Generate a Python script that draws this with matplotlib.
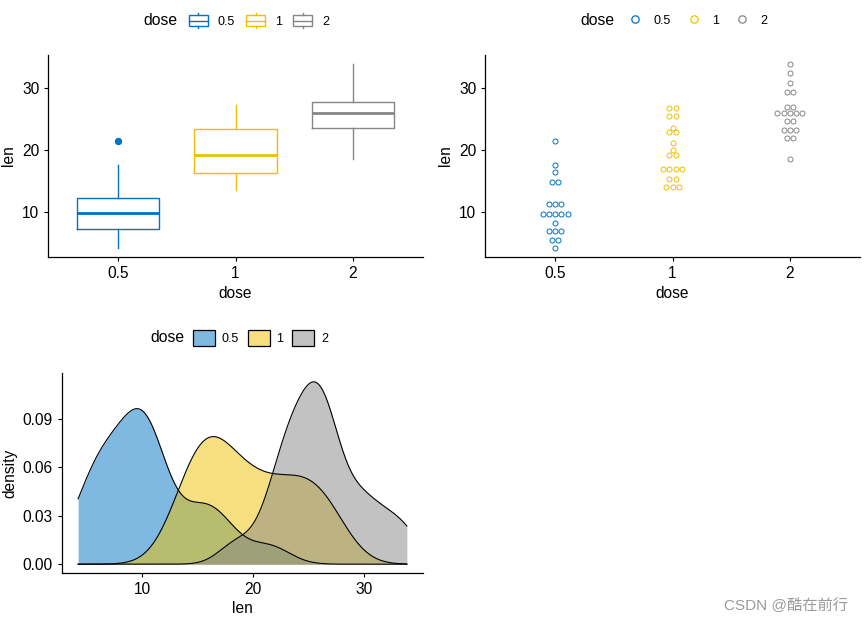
import numpy as np
import matplotlib
matplotlib.use("Agg")
import matplotlib.pyplot as plt
from matplotlib.legend_handler import HandlerBase
from matplotlib.patches import Rectangle, Patch
from matplotlib.lines import Line2D

plt.rcParams['font.family'] = ['Liberation Sans', 'Noto Sans CJK SC', 'DejaVu Sans']

# ---- data (ToothGrowth len by dose) ----
doses = ["0.5", "1", "2"]
len_05 = [4.2, 11.5, 7.3, 5.8, 6.4, 10.0, 11.2, 11.2, 5.2, 7.0,
          15.2, 21.5, 17.6, 9.7, 14.5, 10.0, 8.2, 9.4, 16.5, 9.7]
len_1 = [16.5, 16.5, 15.2, 17.3, 22.5, 17.3, 13.6, 14.5, 18.8, 15.5,
         19.7, 23.3, 23.6, 26.4, 20.0, 25.2, 25.8, 21.2, 14.5, 27.3]
len_2 = [23.6, 18.5, 33.9, 25.5, 26.4, 32.5, 26.7, 21.5, 23.3, 29.5,
         25.5, 26.4, 22.4, 24.5, 24.8, 30.9, 26.4, 27.3, 29.4, 23.0]
groups = [len_05, len_1, len_2]
colors = ["#0073C2", "#EFC000", "#868686"]

fig = plt.figure(figsize=(8.64, 6.23), dpi=100)
W, H = 864, 623

def style(ax):
    for s in ["top", "right"]:
        ax.spines[s].set_visible(False)
    for s in ["left", "bottom"]:
        ax.spines[s].set_linewidth(0.9)
        ax.spines[s].set_color("black")
    ax.tick_params(direction="out", length=2.8, width=0.8, labelsize=11.2,
                   colors="black", pad=3.5)

allv = np.concatenate(groups)
lo, hi = allv.min(), allv.max()
ylim = (lo - 0.05 * (hi - lo), hi + 0.05 * (hi - lo))

# ---- top-left boxplot ----
ax1 = fig.add_axes([48 / W, 1 - 257 / H, 375 / W, 202 / H])
for i, (g, c) in enumerate(zip(groups, colors)):
    ax1.boxplot([g], positions=[i + 1], widths=0.7, whis=1.5,
                boxprops=dict(color=c, linewidth=1.0),
                whiskerprops=dict(color=c, linewidth=1.0),
                capprops=dict(linewidth=0),
                medianprops=dict(color=c, linewidth=2.0),
                flierprops=dict(marker='o', markerfacecolor=c, markeredgecolor=c,
                                markersize=4.3))
ax1.set_xlim(0.4, 3.6)
ax1.set_ylim(*ylim)
ax1.set_xticks([1, 2, 3])
ax1.set_xticklabels(doses)
ax1.set_yticks([10, 20, 30])
ax1.set_xlabel("dose", fontsize=11.2, labelpad=4)
ax1.set_ylabel("len", fontsize=11.2, labelpad=4)
style(ax1)

# ---- top-right dotplot ----
ax2 = fig.add_axes([485 / W, 1 - 257 / H, 375 / W, 202 / H])
ax2.set_xlim(0.4, 3.6)
ax2.set_ylim(*ylim)
binw = (hi - lo) / 30.0
ypx = ax2.transData.transform((0, binw))[1] - ax2.transData.transform((0, 0))[1]
xpx_unit = ax2.transData.transform((1, 0))[0] - ax2.transData.transform((0, 0))[0]
dia_pt = ypx * 72 / fig.dpi
for i, (g, c) in enumerate(zip(groups, colors)):
    v = np.sort(np.array(g))
    bins = []
    binend = -np.inf
    for x in v:
        if x >= binend:
            binend = x + binw
            bins.append([])
        bins[-1].append(x)
    xs, ys = [], []
    for b in bins:
        cy = (min(b) + max(b)) / 2
        n = len(b)
        for k in range(n):
            xs.append(i + 1 + (k - (n - 1) / 2) * ypx / xpx_unit)
            ys.append(cy)
    ax2.plot(xs, ys, linestyle="none", marker="o", markersize=dia_pt * 0.82,
             markerfacecolor="none", markeredgecolor=c, markeredgewidth=0.7)
ax2.set_xticks([1, 2, 3])
ax2.set_xticklabels(doses)
ax2.set_yticks([10, 20, 30])
ax2.set_xlabel("dose", fontsize=11.2, labelpad=4)
ax2.set_ylabel("len", fontsize=11.2, labelpad=4)
style(ax2)

# ---- bottom density ----
ax3 = fig.add_axes([61.7 / W, 1 - 573.3 / H, 361.6 / W, 200.6 / H])
grid = np.linspace(lo, hi, 512)
dens = []
for g in groups:
    a = np.array(g)
    n = len(a)
    q75, q25 = np.percentile(a, [75, 25])
    bw = 0.9 * min(a.std(ddof=1), (q75 - q25) / 1.34) * n ** (-0.2)
    d = np.exp(-0.5 * ((grid[:, None] - a[None, :]) / bw) ** 2).sum(axis=1) / (n * bw * np.sqrt(2 * np.pi))
    dens.append(d)
for d, c in zip(dens, colors):
    ax3.fill_between(grid, 0, d, color=c, alpha=0.5, linewidth=0)
    ax3.plot(grid, d, color="black", linewidth=0.8)
dmax = max(d.max() for d in dens)
ax3.set_xlim(*ylim)
ax3.set_ylim(-0.05 * dmax, 1.05 * dmax)
ax3.set_xticks([10, 20, 30])
ax3.set_yticks([0.0, 0.03, 0.06, 0.09])
ax3.set_yticklabels(["0.00", "0.03", "0.06", "0.09"])
ax3.set_xlabel("len", fontsize=11.2, labelpad=3)
ax3.set_ylabel("density", fontsize=11.2, labelpad=4)
style(ax3)

# ---- legends ----
class BoxHandler(HandlerBase):
    def create_artists(self, legend, orig_handle, xdescent, ydescent, width, height,
                       fontsize, trans):
        c = orig_handle.get_color()
        x0, y0 = -xdescent, -ydescent
        rect = Rectangle((x0, y0 + 0.17 * height), width, 0.66 * height,
                         facecolor="white", edgecolor=c, linewidth=1.0, transform=trans)
        med = Line2D([x0, x0 + width], [y0 + 0.5 * height] * 2, color=c, linewidth=1.0,
                     transform=trans)
        w1 = Line2D([x0 + width / 2] * 2, [y0, y0 + 0.17 * height], color=c,
                    linewidth=1.0, transform=trans)
        w2 = Line2D([x0 + width / 2] * 2, [y0 + 0.83 * height, y0 + height], color=c,
                    linewidth=1.0, transform=trans)
        return [rect, med, w1, w2]

ly_top = 1 - 20.5 / H
box_handles = [Line2D([], [], color=c) for c in colors]
fig.text(143 / W, ly_top, "dose", fontsize=11.3, va="center", ha="left")
fig.legend(box_handles, doses, loc="center left", bbox_to_anchor=(189 / W, ly_top),
           ncol=3, frameon=False, fontsize=9, borderpad=0, borderaxespad=0,
           handlelength=1.5, handleheight=1.55, handletextpad=0.8, columnspacing=0.9,
           handler_map={Line2D: BoxHandler()})

dot_handles = [Line2D([], [], linestyle="none", marker="o", markersize=5.3,
                      markerfacecolor="none", markeredgecolor=c, markeredgewidth=0.9)
               for c in colors]
fig.text(580 / W, ly_top, "dose", fontsize=11.3, va="center", ha="left")
fig.legend(dot_handles, doses, loc="center left", bbox_to_anchor=(629 / W, ly_top),
           ncol=3, frameon=False, fontsize=9, borderpad=0, borderaxespad=0,
           handlelength=1.0, handletextpad=1.0, columnspacing=1.3)

ly_bot = 1 - 338 / H
dens_handles = [Patch(facecolor=c, alpha=None, edgecolor="black", linewidth=0.9)
                for c in ["#7FB9E0", "#F7DF7F", "#C2C2C2"]]
fig.text(150 / W, ly_bot, "dose", fontsize=11.3, va="center", ha="left")
fig.legend(dens_handles, doses, loc="center left", bbox_to_anchor=(193 / W, ly_bot),
           ncol=3, frameon=False, fontsize=9, borderpad=0, borderaxespad=0,
           handlelength=1.75, handleheight=1.65, handletextpad=0.55, columnspacing=0.7)

# watermark
fig.text(848 / W, 1 - 605 / H, "CSDN @酷在前行", fontsize=11, color="#9a9a9a",
         ha="right", va="center", family=['Liberation Sans', 'Noto Sans CJK SC'])

fig.savefig("out.png", dpi=100)
